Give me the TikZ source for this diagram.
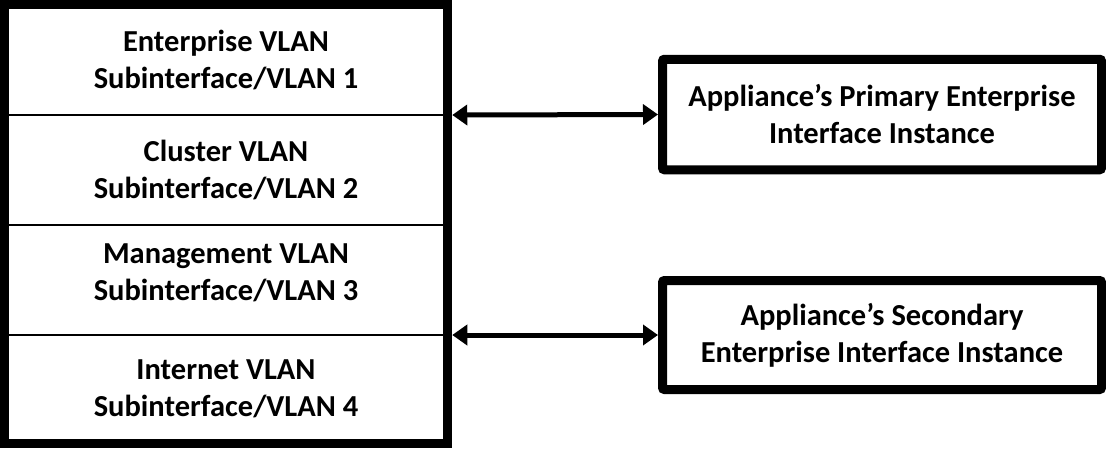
\documentclass[tikz,border=0pt]{standalone}
\usepackage{fontspec}
\setmainfont{Carlito}
\usetikzlibrary{arrows.meta}
\begin{document}
\begin{tikzpicture}[x=1pt,y=-1pt,
  lbl/.style={align=center,inner sep=0pt,font=\bfseries\fontsize{30.5}{37}\selectfont},
  frame/.style={draw,line width=9.5pt,minimum width=443pt,minimum height=439pt,inner sep=0pt},
  appbox/.style={draw,line width=9pt,rounded corners=2pt,minimum width=439pt,inner sep=0pt,lbl},
  divider/.style={line width=2pt},
  link/.style={line width=5pt,{Triangle[length=15pt,width=20pt]}-{Triangle[length=15pt,width=20pt]}}]
\useasboundingbox (0,0) rectangle (1106,448);
% left frame
\node[frame] (L) at (226,224) {};
\coordinate (d1) at (226,115);
\coordinate (d2) at (226,225);
\coordinate (d3) at (226,335);
\draw[divider] (d1 -| L.west) -- (d1 -| L.east);
\draw[divider] (d2 -| L.west) -- (d2 -| L.east);
\draw[divider] (d3 -| L.west) -- (d3 -| L.east);
\node[frame] at (L.center) {};
\node[lbl] (t1) at (226,60) {Enterprise VLAN\\Subinterface/VLAN 1};
\node[lbl] (t2) at (226,170) {Cluster VLAN\\Subinterface/VLAN 2};
\node[lbl] (t3) at (226,273) {Management VLAN\\Subinterface/VLAN 3};
\node[lbl] (t4) at (226,389) {Internet VLAN\\Subinterface/VLAN 4};
% right boxes
\node[appbox,minimum height=110.5pt] (P) at (882,114.5) {Appliance’s Primary Enterprise\\Interface Instance};
\node[appbox,minimum height=109pt] (S) at (882,335) {Appliance’s Secondary\\Enterprise Interface Instance};
% links
\draw[link] (d1 -| L.east) -- (P.west);
\draw[link] (d3 -| L.east) -- (S.west);
\end{tikzpicture}
\end{document}
